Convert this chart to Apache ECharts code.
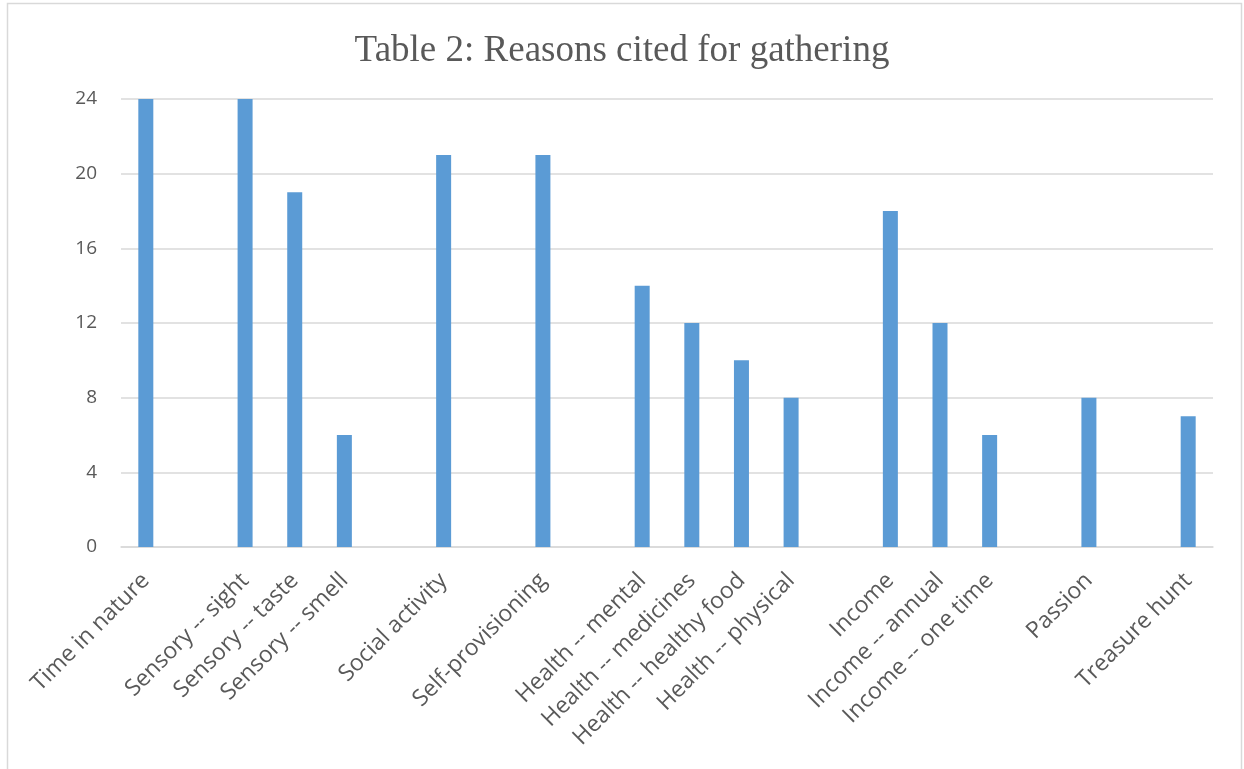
<!DOCTYPE html>
<html><head><meta charset="utf-8">
<script src="https://cdn.jsdelivr.net/npm/echarts@6/dist/echarts.min.js"></script>
<style>html,body{margin:0;padding:0;background:#fff}#c{width:1244px;height:769px}</style>
</head><body><div id="c"></div>
<script>
const titleText = 'Table 2: Reasons cited for gathering';
const categories = ['Time in nature','','Sensory -- sight','Sensory -- taste','Sensory -- smell','','Social activity','','Self-provisioning','','Health -- mental','Health -- medicines','Health -- healthy food','Health -- physical','','Income','Income -- annual','Income -- one time','','Passion','','Treasure hunt'];
const values = [24,null,24,19,6,null,21,null,21,null,14,12,10,8,null,18,12,6,null,8,null,7];
const yTicks = {min:0, max:24, interval:4};

const chart = echarts.init(document.getElementById('c'), null, {renderer:'canvas'});
chart.setOption({
  animation:false,
  backgroundColor:'#fff',
  graphic:[{type:'rect',shape:{x:7.5,y:3.5,width:1234,height:780},style:{fill:'none',stroke:'#d9d9d9',lineWidth:1.5},silent:true,z:-1}],
  title:{text:titleText,left:'center',top:28,textStyle:{fontFamily:'Liberation Serif',fontSize:37,fontWeight:'normal',color:'#595959'}},
  grid:{left:121,right:31,top:99,bottom:222,containLabel:false},
  xAxis:{type:'category',data:categories,
    axisLine:{lineStyle:{color:'#d9d9d9',width:1.5}},axisTick:{show:false},
    axisLabel:{rotate:45,interval:0,margin:30,fontFamily:'Open Sans',fontSize:23,color:'#595959'}},
  yAxis:{type:'value',min:yTicks.min,max:yTicks.max,interval:yTicks.interval,
    axisLine:{show:false},axisTick:{show:false},
    splitLine:{lineStyle:{color:'#d9d9d9',width:1.5}},
    axisLabel:{margin:24,fontFamily:'Open Sans',fontSize:19,color:'#595959'}},
  series:[{type:'bar',data:values,barWidth:15,itemStyle:{color:'#5b9bd5'}}]
});
</script></body></html>
